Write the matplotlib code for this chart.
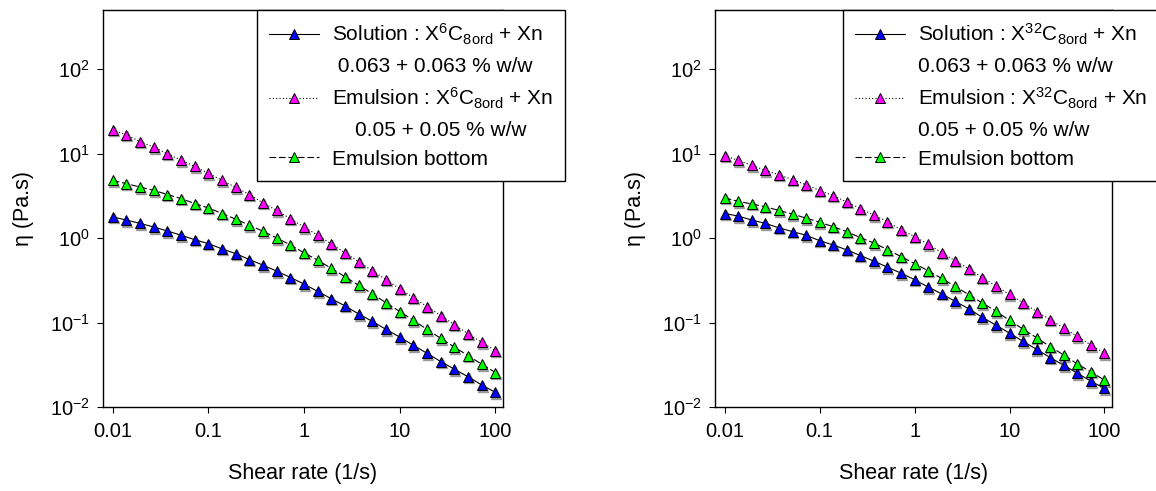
import numpy as np
import matplotlib
matplotlib.use("Agg")
import matplotlib.pyplot as plt
from matplotlib.lines import Line2D
from matplotlib import ticker
from matplotlib.transforms import offset_copy

plt.rcParams["font.family"] = ["Liberation Sans", "DejaVu Sans"]
plt.rcParams["mathtext.fontset"] = "custom"
plt.rcParams["mathtext.rm"] = "Liberation Sans"
plt.rcParams["mathtext.default"] = "regular"

# shear rate: 0.01 .. 100, 7 points per decade
shear = 10 ** (np.arange(29) / 7.0 - 2)

# left panel : X6C8ord + Xn
sol_6 = [1.78, 1.63, 1.49, 1.35, 1.21, 1.08, 0.955, 0.857, 0.743, 0.653, 0.556, 0.477,
         0.406, 0.341, 0.285, 0.233, 0.191, 0.157, 0.126, 0.103, 0.0828, 0.0672, 0.0537,
         0.0432, 0.0345, 0.0280, 0.0228, 0.0182, 0.0149]
emu_6 = [19.0, 16.6, 13.8, 11.9, 9.9, 8.34, 7.03, 5.82, 4.81, 3.98, 3.27, 2.60, 2.12,
         1.69, 1.35, 1.08, 0.85, 0.667, 0.522, 0.409, 0.321, 0.251, 0.197, 0.154, 0.121,
         0.094, 0.0736, 0.0582, 0.0465]
bot_6 = [4.81, 4.40, 4.01, 3.67, 3.27, 2.93, 2.56, 2.27, 1.95, 1.67, 1.42, 1.20, 1.0,
         0.828, 0.667, 0.547, 0.436, 0.348, 0.275, 0.218, 0.171, 0.135, 0.106, 0.0828,
         0.0649, 0.0512, 0.0405, 0.0321, 0.0256]

# right panel : X32C8ord + Xn
sol_32 = [1.95, 1.82, 1.63, 1.49, 1.32, 1.19, 1.08, 0.929, 0.828, 0.723, 0.620, 0.532,
          0.452, 0.384, 0.321, 0.263, 0.218, 0.178, 0.145, 0.115, 0.093, 0.0748, 0.0597,
          0.0481, 0.0384, 0.0312, 0.0251, 0.0202, 0.0166]
emu_32 = [9.47, 8.28, 7.28, 6.3, 5.61, 4.9, 4.28, 3.65, 3.17, 2.67, 2.23, 1.87, 1.56,
          1.25, 1.04, 0.843, 0.672, 0.536, 0.431, 0.341, 0.270, 0.215, 0.171, 0.135,
          0.108, 0.0857, 0.0684, 0.054, 0.0432]
bot_32 = [2.98, 2.72, 2.53, 2.34, 2.12, 1.92, 1.72, 1.54, 1.36, 1.19, 1.01, 0.873, 0.728,
          0.603, 0.499, 0.409, 0.332, 0.267, 0.213, 0.170, 0.136, 0.106, 0.0834, 0.066,
          0.0518, 0.0412, 0.0323, 0.026, 0.0208]

x_ticks = [0.01, 0.1, 1, 10, 100]
x_ticklabels = ["0.01", "0.1", "1", "10", "100"]

labels_6 = ["Solution : X$^{6}$C$_{8ord}$ + Xn", " 0.063 + 0.063 % w/w",
            "Emulsion : X$^{6}$C$_{8ord}$ + Xn", "    0.05 + 0.05 % w/w", "Emulsion bottom"]
labels_32 = ["Solution : X$^{32}$C$_{8ord}$ + Xn", "0.063 + 0.063 % w/w",
             "Emulsion : X$^{32}$C$_{8ord}$ + Xn", "0.05 + 0.05 % w/w", "Emulsion bottom"]

styles = [dict(ls="-", mfc="#0000ff"),
          dict(ls=(0, (1, 2)), mfc="#ff00ff"),
          dict(ls=(0, (6, 2.5)), mfc="#00ff00")]

fig = plt.figure(figsize=(11.56, 4.91), dpi=100)
ax1 = fig.add_axes([103 / 1156, 84 / 491, 400 / 1156, 397 / 491])
ax2 = fig.add_axes([715 / 1156, 84 / 491, 397 / 1156, 397 / 491])

panels = [(ax1, [sol_6, emu_6, bot_6], labels_6, ((257 - 103) / 400, 1.0)),
          (ax2, [sol_32, emu_32, bot_32], labels_32, ((843 - 715) / 397, 1.0))]

for ax, series, labels, anchor in panels:
    shadow = offset_copy(ax.transData, fig=fig, x=0.8, y=-1.5, units="dots")
    handles = []
    for ydata, st in zip(series, styles):
        # grey drop shadow under the markers
        ax.plot(shear, ydata, ls="none", marker="^", ms=7, mfc="0.6", mec="0.6",
                transform=shadow, zorder=1.8)
        h, = ax.plot(shear, ydata, color="black", lw=0.8, ls=st["ls"], marker="^",
                     ms=7, mfc=st["mfc"], mec="black", mew=0.7, zorder=2)
        handles.append(h)
    blank = Line2D([], [], ls="none", marker=None)
    ax.set_xscale("log")
    ax.set_yscale("log")
    ax.set_xlim(0.0079, 120)
    ax.set_ylim(0.01, 500)
    ax.set_xticks(x_ticks)
    ax.set_xticklabels(x_ticklabels)
    ax.xaxis.set_minor_locator(ticker.NullLocator())
    ax.yaxis.set_minor_locator(ticker.NullLocator())
    ax.yaxis.set_major_locator(ticker.LogLocator(base=10, numticks=10))
    ax.tick_params(axis="both", which="major", direction="out", length=4.5,
                   width=0.8, labelsize=14.5, top=False, right=False)
    ax.tick_params(axis="x", pad=6)
    ax.tick_params(axis="y", pad=5)
    for sp in ax.spines.values():
        sp.set_linewidth(1.0)
    ax.set_xlabel("Shear rate (1/s)", fontsize=15.5, labelpad=16)
    ax.set_ylabel("η (Pa.s)", fontsize=15.5, labelpad=11.5)
    leg = ax.legend([handles[0], blank, handles[1], blank, handles[2]], labels,
                    loc="upper left", bbox_to_anchor=anchor, borderaxespad=0,
                    fontsize=15, frameon=True, fancybox=False, framealpha=1,
                    edgecolor="black", handlelength=2.4, handletextpad=0.6,
                    labelspacing=0.47, borderpad=0.58)
    leg.get_frame().set_linewidth(1.0)
    leg.set_zorder(5)

fig.savefig("out.png", dpi=100)
